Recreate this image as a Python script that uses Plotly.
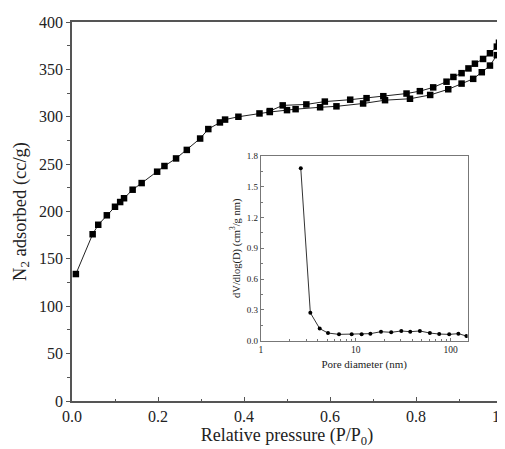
import plotly.graph_objects as go

# Adsorption branch (P/P0, cc/g)
ads_x = [0.009, 0.048, 0.061, 0.081, 0.100, 0.112, 0.121, 0.141, 0.162, 0.198, 0.215, 0.242,
         0.267, 0.298, 0.317, 0.344, 0.356, 0.387, 0.436, 0.460, 0.500, 0.520, 0.577, 0.615,
         0.677, 0.728, 0.786, 0.833, 0.875, 0.906, 0.933, 0.953, 0.972, 0.988]
ads_y = [134, 176, 186, 196, 205, 210, 214, 223, 230, 242, 248, 256,
         265, 277, 287, 294, 297, 300, 303.5, 305, 307, 308, 310, 311,
         314, 317.5, 319, 323, 329, 335, 340, 347, 354, 365]

# Desorption branch
des_x = [0.993, 0.988, 0.972, 0.956, 0.937, 0.922, 0.906, 0.887, 0.871, 0.840, 0.809, 0.778,
         0.724, 0.685, 0.647, 0.588, 0.545, 0.490, 0.460]
des_y = [378, 374, 367, 361, 356, 351, 346, 342, 337, 331, 327, 324.5,
         321.7, 319.6, 318, 316, 313, 312, 306]

# Inset: pore size distribution
pore_d = [2.64, 3.33, 4.18, 5.11, 6.68, 9.08, 11.56, 14.3, 18.5, 23.7, 30.3, 37.6,
          47.5, 60.6, 76.0, 96.8, 121, 147]
pore_v = [1.679, 0.272, 0.118, 0.075, 0.062, 0.062, 0.062, 0.069, 0.088, 0.082, 0.095, 0.088,
          0.095, 0.075, 0.065, 0.062, 0.069, 0.046]

main_ticks = [0, 50, 100, 150, 200, 250, 300, 350, 400]
inset_ticks = [0.0, 0.3, 0.6, 0.9, 1.2, 1.5, 1.8]

FONT = "Liberation Serif, Times New Roman, DejaVu Serif, serif"

fig = go.Figure()
fig.add_trace(go.Scatter(x=ads_x, y=ads_y, mode="lines+markers",
                         line=dict(color="#222", width=1),
                         marker=dict(symbol="square", size=6.5, color="black"),
                         xaxis="x", yaxis="y", showlegend=False, cliponaxis=False))
fig.add_trace(go.Scatter(x=des_x, y=des_y, mode="lines+markers",
                         line=dict(color="#222", width=1),
                         marker=dict(symbol="square", size=6.5, color="black"),
                         xaxis="x", yaxis="y", showlegend=False, cliponaxis=False))
fig.add_trace(go.Scatter(x=pore_d, y=pore_v, mode="lines+markers",
                         line=dict(color="#333", width=1),
                         marker=dict(symbol="circle", size=4, color="black"),
                         xaxis="x2", yaxis="y2", showlegend=False))

fig.update_layout(
    width=497, height=441,
    margin=dict(l=64, r=3, t=14, b=48, autoexpand=False),
    paper_bgcolor="white", plot_bgcolor="white",
    font=dict(family=FONT, color="#222"),
    xaxis=dict(range=[0, 1.0], dtick=0.2, tickformat=".1f", automargin=False,
               ticklabeloverflow="allow",
               showline=True, linecolor="#555", linewidth=1.5, mirror=True,
               ticks="inside", ticklen=4, tickcolor="#555", showgrid=False, zeroline=False,
               minor=dict(ticks="inside", ticklen=2, dtick=0.1, tickcolor="#555"),
               tickfont=dict(size=16, family=FONT),
               title=dict(text="Relative pressure (P/P<sub>0</sub>)", font=dict(size=18, family=FONT), standoff=2)),
    yaxis=dict(range=[0, 400], tickvals=main_ticks, automargin=False,
               ticklabeloverflow="allow",
               showline=True, linecolor="#555", linewidth=1.5, mirror=True,
               ticks="outside", ticklen=4, tickcolor="#555", showgrid=False, zeroline=False,
               minor=dict(ticks="outside", ticklen=3, dtick=25, tickcolor="#555"),
               tickfont=dict(size=16, family=FONT),
               title=dict(text="N<sub>2</sub> adsorbed (cc/g)", font=dict(size=18.5, family=FONT), standoff=8)),
    xaxis2=dict(type="log", range=[0, 2.18], domain=[0.439, 0.920], anchor="y2", automargin=False,
                tickvals=[1, 10, 100], ticktext=["1", "10", "100"],
                showline=True, linecolor="#777", linewidth=1, mirror=True,
                ticks="inside", ticklen=3, tickcolor="#777", showgrid=False, zeroline=False,
                minor=dict(ticks="inside", ticklen=2, tickcolor="#777", showgrid=False,
                           tickvals=[2, 3, 4, 5, 6, 7, 8, 9, 20, 30, 40, 50, 60, 70, 80, 90]),
                tickfont=dict(size=9.5, family=FONT),
                title=dict(text="Pore diameter (nm)", font=dict(size=11, family=FONT), standoff=6)),
    yaxis2=dict(range=[0, 1.8], domain=[0.159, 0.647], anchor="x2", automargin=False,
                tickvals=inset_ticks, tickformat=".1f",
                showline=True, linecolor="#777", linewidth=1, mirror=True,
                ticks="inside", ticklen=3, tickcolor="#777", showgrid=False, zeroline=False,
                minor=dict(ticks="inside", ticklen=2, dtick=0.15, tickcolor="#777"),
                tickfont=dict(size=9, family=FONT),
                title=dict(text="dV/dlog(D) (cm<sup>3</sup>/g nm)", font=dict(size=10.5, family=FONT), standoff=4)),
)

fig.write_html("out.html")
